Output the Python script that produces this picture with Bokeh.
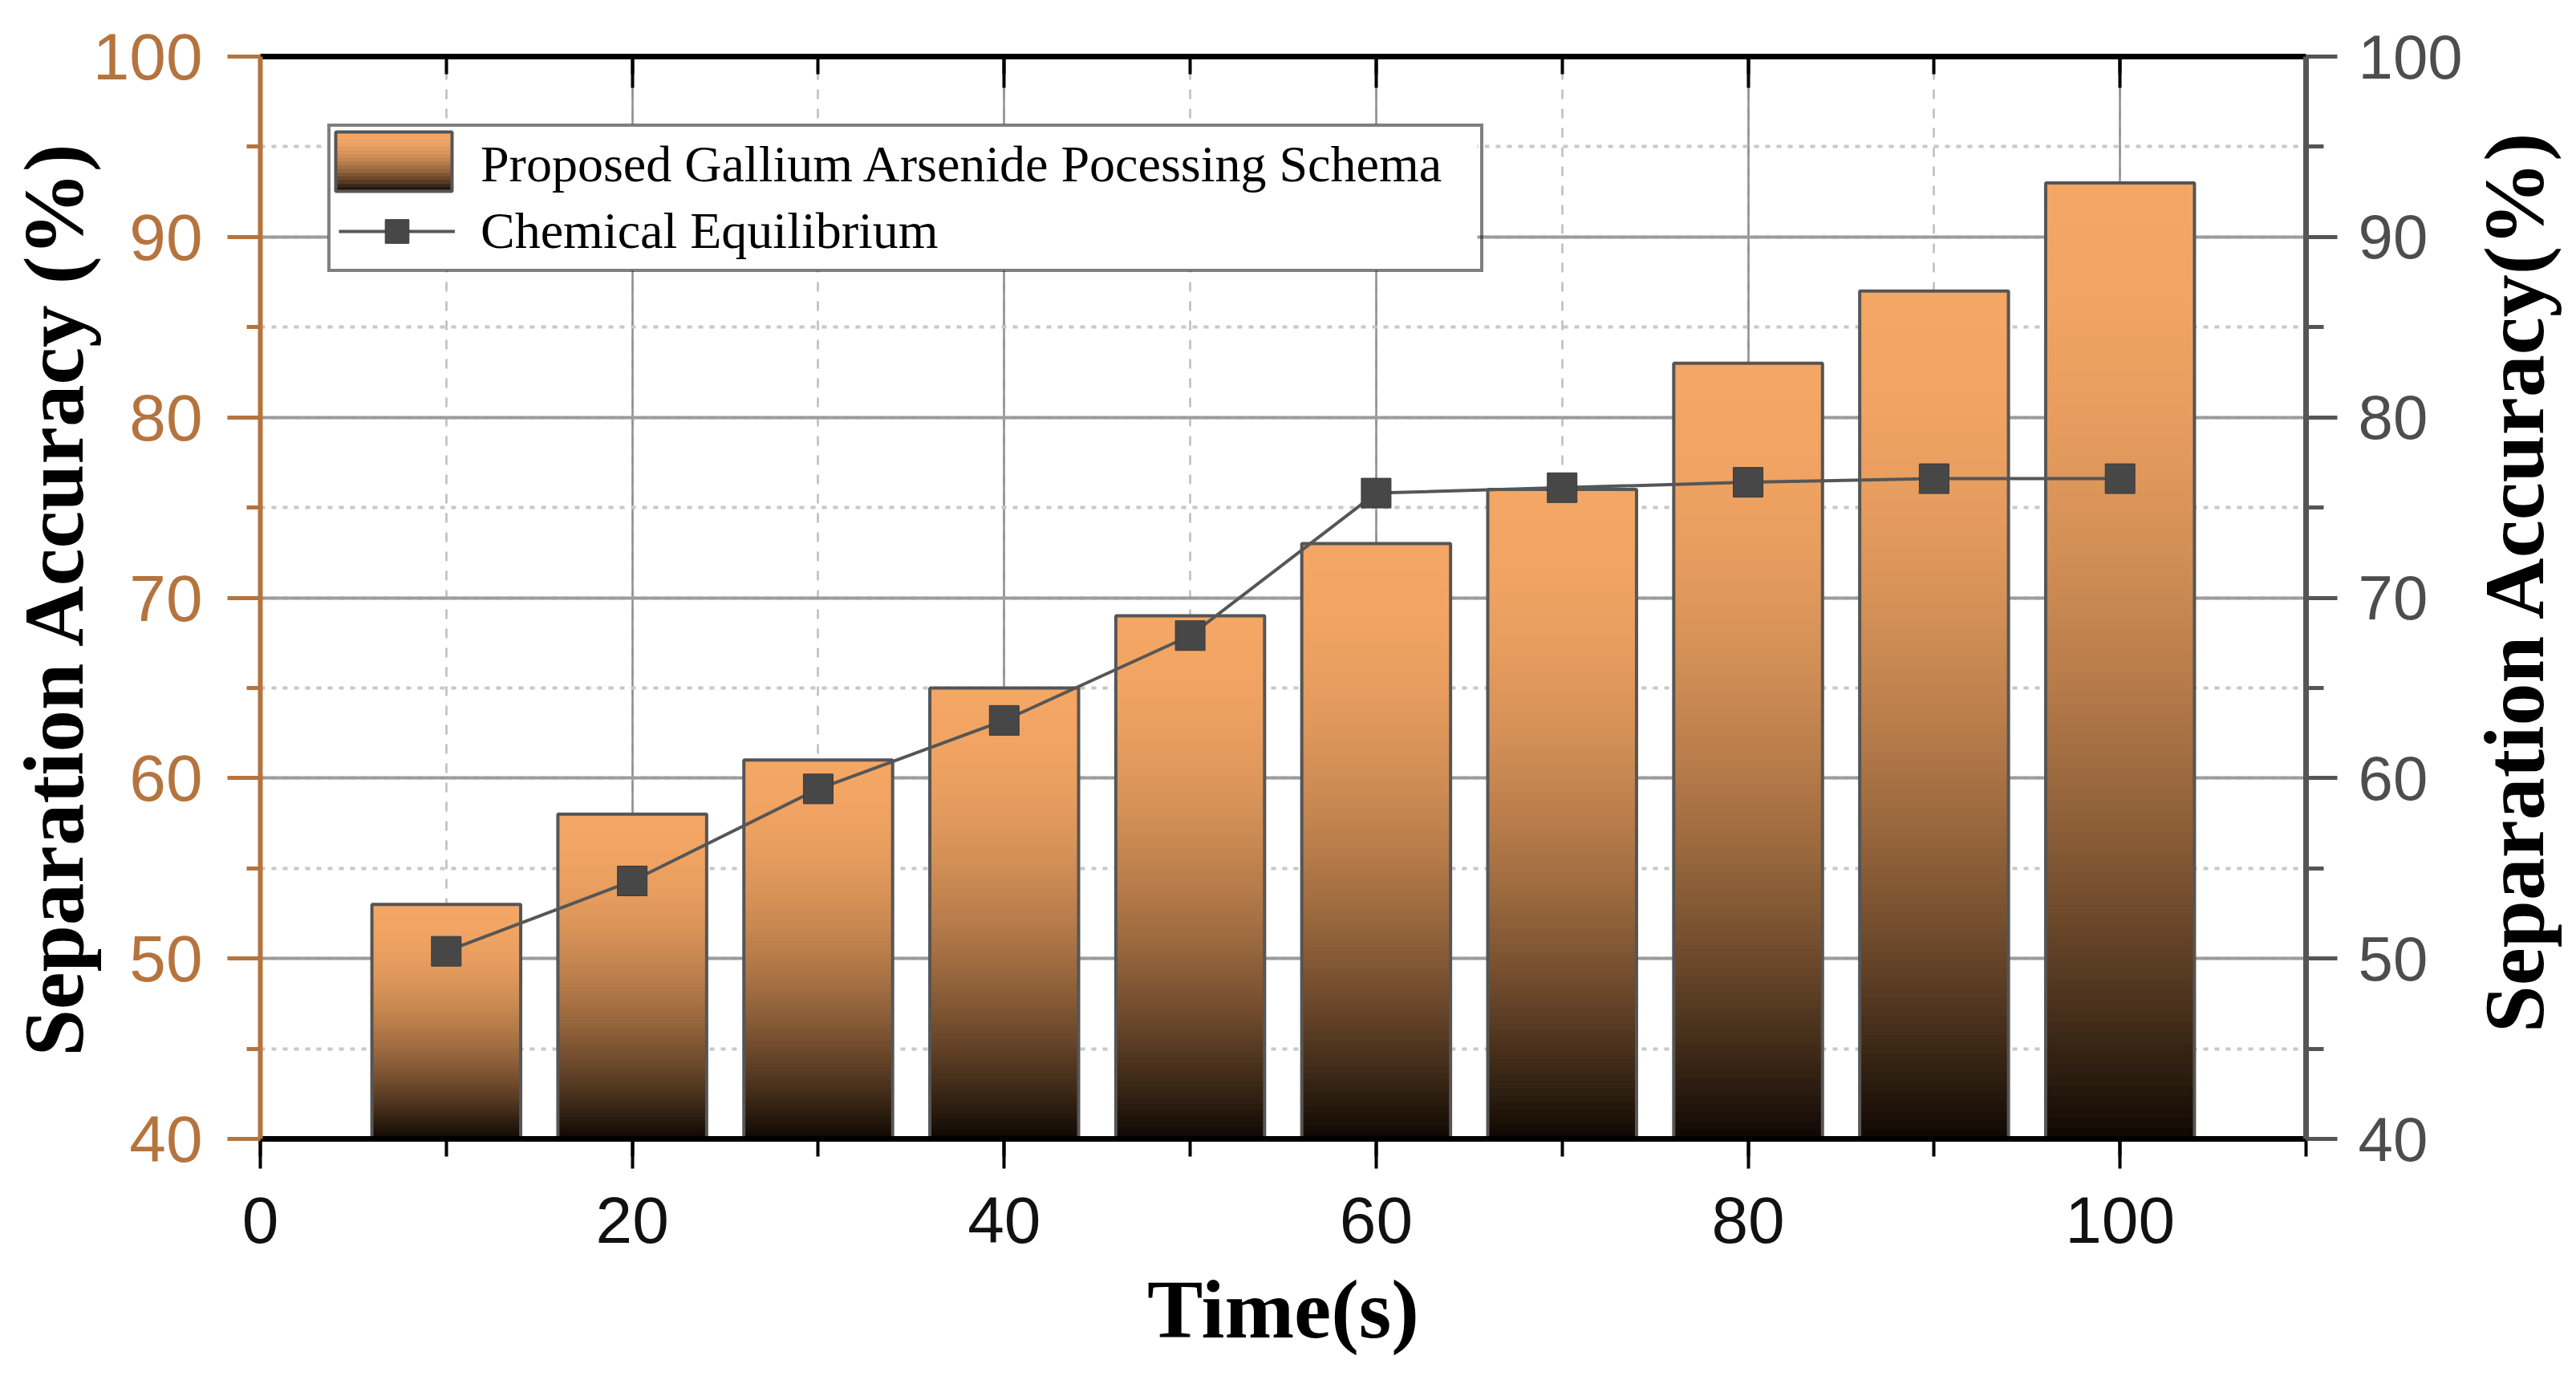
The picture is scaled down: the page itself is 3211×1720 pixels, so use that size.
import numpy as np
from bokeh.plotting import figure
from bokeh.layouts import row
from bokeh.models import (LinearAxis, SingleIntervalTicker, Range1d, Legend,
                          LegendItem, ColumnDataSource, CustomJSTickFormatter)
from bokeh.core.validation import silence
from bokeh.core.validation.warnings import MISSING_RENDERERS
from bokeh.embed import file_html
from bokeh.resources import INLINE

# ---------------- data ----------------
time_s = [10, 20, 30, 40, 50, 60, 70, 80, 90, 100]
proposed = [53, 58, 61, 65, 69, 73, 76, 83, 87, 93]
chemical = [50.4, 54.3, 59.4, 63.2, 67.9, 75.8, 76.1, 76.4, 76.6, 76.6]
label_bar = "Proposed Gallium Arsenide Pocessing Schema"
label_line = "Chemical Equilibrium"
x_title = "Time(s)"
y_title_left = "Separation Accuracy (%)"
y_title_right = "Separation Accuracy(%)"

# ---------------- layout / style ----------------
W, H = 3195, 1704          # whole page content
FRAME_L, FRAME_R, FRAME_T, FRAME_B = 324, 2874, 70, 1419
MR = 196
WP = FRAME_R + MR          # main chart width
W2 = W - WP                # side strip carrying the right-hand title
ML, MT, MB = FRAME_L, FRAME_T, H - FRAME_B
FW, FH = FRAME_R - FRAME_L, FRAME_B - FRAME_T
X0, X1 = 0, 110
Y0, Y1 = 40, 100
BAR_W = 8
COPPER = "#B5743E"
TOP_RGB = np.array([244, 166, 100], dtype=float)
BOT_RGB = np.array([14, 8, 3], dtype=float)
NSLICE = 90
TITLE_FONT = "Liberation Serif"
TICK_FONT = "Liberation Sans"


def px2x(px):
    return X0 + (px - ML) / FW * (X1 - X0)


def px2y(py):
    return Y1 - (py - MT) / FH * (Y1 - Y0)


def grad_color(t):
    f = 1.0 - t ** 2
    c = BOT_RGB + (TOP_RGB - BOT_RGB) * f
    return "#%02x%02x%02x" % tuple(int(round(v)) for v in c)


def gradient_slices(xc_list, top_list, base, width):
    L, R, B, T, C = [], [], [], [], []
    for xc, v in zip(xc_list, top_list):
        edges = np.linspace(base, v, NSLICE + 1)
        eps = (v - base) / NSLICE * 0.6
        for k in range(NSLICE):
            mid = 0.5 * (edges[k] + edges[k + 1])
            t = (v - mid) / (v - base)
            L.append(xc - width / 2)
            R.append(xc + width / 2)
            B.append(edges[k])
            T.append(min(edges[k + 1] + eps, v))
            C.append(grad_color(t))
    return ColumnDataSource(dict(left=L, right=R, bottom=B, top=T, color=C))


p = figure(frame_width=FW, frame_height=FH, x_range=Range1d(X0, X1), y_range=Range1d(Y0, Y1),
           output_backend="svg", toolbar_location=None,
           min_border_left=ML, min_border_right=MR,
           min_border_top=MT, min_border_bottom=MB)
p.outline_line_color = None
p.background_fill_color = "white"
p.border_fill_color = "white"

xt = SingleIntervalTicker(interval=20, num_minor_ticks=2)
yt = SingleIntervalTicker(interval=10, num_minor_ticks=2)

# grids
p.xgrid.ticker = xt
p.ygrid.ticker = yt
p.xgrid.grid_line_color = "#8f8f8f"
p.xgrid.grid_line_width = 2.5
p.xgrid.minor_grid_line_color = "#bdbdbd"
p.xgrid.minor_grid_line_width = 2.5
p.xgrid.minor_grid_line_dash = "12 12"
p.ygrid.grid_line_color = "#9c9c9c"
p.ygrid.grid_line_width = 4
p.ygrid.minor_grid_line_color = "#c8c8c8"
p.ygrid.minor_grid_line_width = 4
p.ygrid.minor_grid_line_dash = "6 8"

# bottom axis
bx = p.xaxis[0]
bx.ticker = xt
bx.axis_line_color = "black"
bx.axis_line_width = 7
bx.major_tick_line_color = "black"
bx.major_tick_line_width = 4
bx.major_tick_out = 37
bx.major_tick_in = 0
bx.minor_tick_line_color = "black"
bx.minor_tick_line_width = 4
bx.minor_tick_out = 22
bx.minor_tick_in = 0
bx.major_label_text_font = TICK_FONT
bx.major_label_text_font_size = "82px"
bx.major_label_text_color = "#111111"
bx.major_label_standoff = 35
bx.axis_label = x_title
bx.axis_label_text_font = TITLE_FONT
bx.axis_label_text_font_style = "bold"
bx.axis_label_text_font_size = "104px"
bx.axis_label_text_color = "black"
bx.axis_label_standoff = 22

# left axis
ly = p.yaxis[0]
ly.ticker = yt
ly.axis_line_color = COPPER
ly.axis_line_width = 6
ly.major_tick_line_color = COPPER
ly.major_tick_line_width = 5
ly.major_tick_out = 41
ly.major_tick_in = 0
ly.minor_tick_line_color = COPPER
ly.minor_tick_line_width = 5
ly.minor_tick_out = 17
ly.minor_tick_in = 0
ly.major_label_text_font = TICK_FONT
ly.major_label_text_font_size = "82px"
ly.major_label_text_color = COPPER
ly.major_label_standoff = 31
ly.axis_label = y_title_left
ly.axis_label_text_font = TITLE_FONT
ly.axis_label_text_font_style = "bold"
ly.axis_label_text_font_size = "105px"
ly.axis_label_text_color = "black"
ly.axis_label_standoff = -13

# top axis (ticks only)
tx = LinearAxis(ticker=xt, formatter=CustomJSTickFormatter(code="return ''"))
tx.axis_line_color = "black"
tx.axis_line_width = 7
tx.major_tick_line_color = "black"
tx.major_tick_line_width = 4
tx.major_tick_in = 39
tx.major_tick_out = 0
tx.minor_tick_line_color = "black"
tx.minor_tick_line_width = 4
tx.minor_tick_in = 22
tx.minor_tick_out = 0
tx.major_label_standoff = 0
p.add_layout(tx, "above")

# right axis
ry = LinearAxis(ticker=yt)
ry.axis_line_color = "#555555"
ry.axis_line_width = 7
ry.major_tick_line_color = "#555555"
ry.major_tick_line_width = 5
ry.major_tick_out = 39
ry.major_tick_in = 0
ry.minor_tick_line_color = "#555555"
ry.minor_tick_line_width = 5
ry.minor_tick_out = 22
ry.minor_tick_in = 0
ry.major_label_text_font = TICK_FONT
ry.major_label_text_font_size = "78px"
ry.major_label_text_color = "#4d4d4d"
ry.major_label_standoff = 26
p.add_layout(ry, "right")

# gradient bars
bars_src = gradient_slices(time_s, proposed, Y0, BAR_W)
p.quad(left="left", right="right", bottom="bottom", top="top", source=bars_src,
       fill_color="color", line_color=None)
p.vbar(x=time_s, top=proposed, bottom=Y0, width=BAR_W,
       fill_color=None, line_color="#555555", line_width=4)

# line + markers
line_r = p.line(time_s, chemical, line_color="#565656", line_width=4)
sc_r = p.scatter(time_s, chemical, marker="square", size=37,
                 fill_color="#474747", line_color="#3a3a3a", line_width=1)

# legend geometry (screen px inside the figure)
LEG_MARGIN, LEG_PAD, GW, GH, LEG_SPACING = 84, 10, 145, 74, 9
LEG_STANDOFF, LEG_LABEL_W = 32, 1236
leg_l = ML + LEG_MARGIN
leg_t = MT + LEG_MARGIN
leg_w = 2 * LEG_PAD + GW + LEG_STANDOFF + LEG_LABEL_W
leg_h = 2 * LEG_PAD + 2 * GH + LEG_SPACING

# white legend background (under the transparent Legend box)
p.quad(left=[px2x(leg_l)], right=[px2x(leg_l + leg_w)], top=[px2y(leg_t)],
       bottom=[px2y(leg_t + leg_h + 6)], fill_color="white", line_color=None)

# gradient swatch for the bar entry
sw_l, sw_t = leg_l + LEG_PAD, leg_t + LEG_PAD
sw_x0, sw_x1 = px2x(sw_l), px2x(sw_l + GW)
sw_y1, sw_y0 = px2y(sw_t), px2y(sw_t + GH)
sw_src = gradient_slices([0.5 * (sw_x0 + sw_x1)], [sw_y1], sw_y0, sw_x1 - sw_x0)
p.quad(left="left", right="right", bottom="bottom", top="top", source=sw_src,
       fill_color="color", line_color=None)
p.quad(left=[sw_x0], right=[sw_x1], bottom=[sw_y0], top=[sw_y1], fill_color=None,
       line_color="#555555", line_width=4)

# invisible stand-in renderer for the bar legend entry (swatch drawn above)
bar_key = p.vbar(x=time_s[:1], top=proposed[:1], bottom=Y0, width=BAR_W,
                 fill_alpha=0, line_alpha=0)

legend = Legend(items=[LegendItem(label=label_bar, renderers=[bar_key]),
                       LegendItem(label=label_line, renderers=[line_r, sc_r])],
                location="top_left", margin=LEG_MARGIN, padding=LEG_PAD, spacing=LEG_SPACING,
                glyph_width=GW, glyph_height=GH, label_standoff=LEG_STANDOFF,
                label_width=LEG_LABEL_W, label_height=GH,
                label_text_font=TITLE_FONT, label_text_font_size="64px",
                label_text_color="black",
                border_line_color="black", border_line_width=4,
                background_fill_alpha=0.0)
p.add_layout(legend)

# ---------------- side strip: right-hand axis title reading bottom-to-top ----------------
silence(MISSING_RENDERERS, True)
T2 = 40
B2 = H - (2 * 708 - T2)
p2 = figure(width=W2, height=H, x_range=Range1d(0, 1), y_range=Range1d(Y0, Y1),
            output_backend="svg", toolbar_location=None,
            x_axis_location=None, y_axis_location="left",
            min_border_left=0, min_border_right=0,
            min_border_top=T2, min_border_bottom=B2)
p2.outline_line_color = None
p2.background_fill_color = "white"
p2.border_fill_color = "white"
p2.xgrid.visible = False
p2.ygrid.visible = False
a2 = p2.yaxis[0]
a2.formatter = CustomJSTickFormatter(code="return ''")
a2.axis_line_color = None
a2.major_tick_line_color = None
a2.minor_tick_line_color = None
a2.major_tick_out = 0
a2.major_tick_in = 0
a2.minor_tick_out = 0
a2.minor_tick_in = 0
a2.major_label_standoff = 0
a2.axis_label = y_title_right
a2.axis_label_text_font = TITLE_FONT
a2.axis_label_text_font_style = "bold"
a2.axis_label_text_font_size = "106px"
a2.axis_label_text_color = "black"
a2.axis_label_standoff = 0

layout = row(p, p2)
open("out.html", "w").write(file_html(layout, INLINE))
